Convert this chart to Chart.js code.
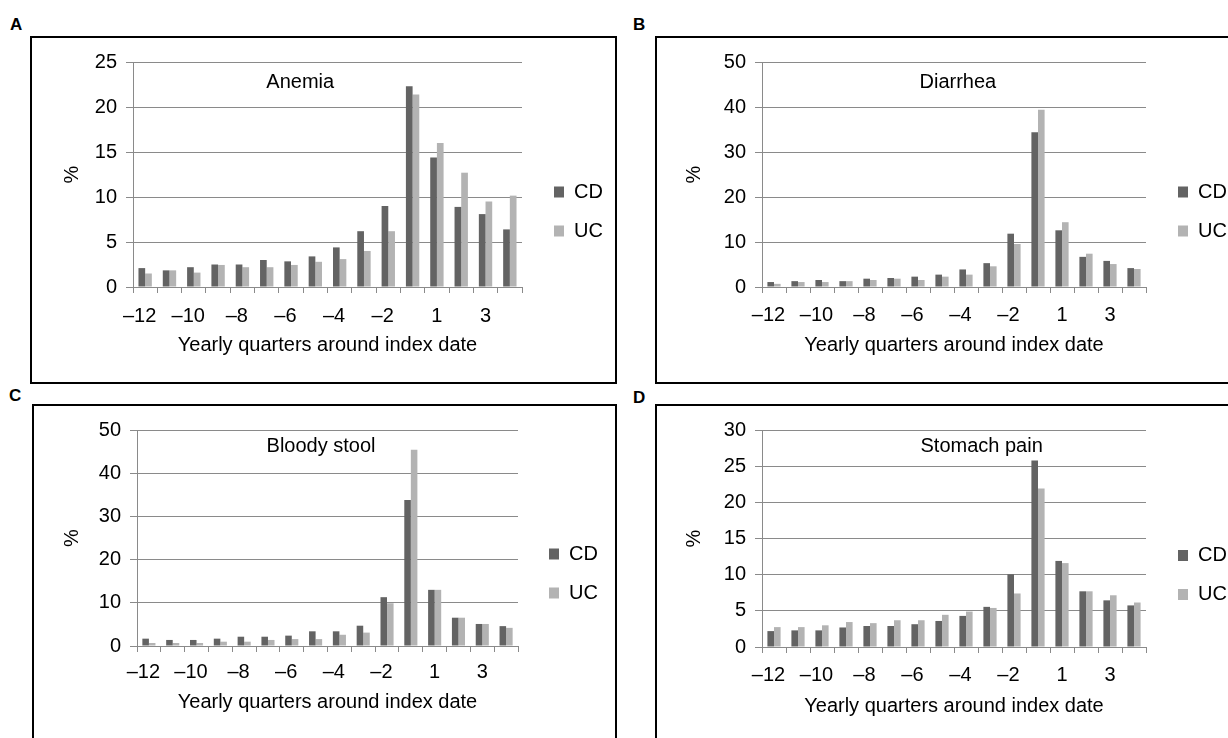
<!DOCTYPE html>
<html>
<head>
<meta charset="utf-8">
<script src="https://cdn.jsdelivr.net/npm/chart.js@4.4.1/dist/chart.umd.min.js"></script>
<style>
  body { margin: 0; width: 1228px; height: 738px; overflow: hidden; background: #fff; position: relative;
         font-family: "Liberation Sans", Arial, sans-serif; }
  .box { position: absolute; border: 2px solid #000; box-sizing: border-box; }
  .letter { position: absolute; font-weight: bold; font-size: 17px; line-height: 17px; }
  canvas { position: absolute; }
</style>
</head>
<body>
<script>
// categorias (trimestres) y etiquetas que se ven en el eje
var quarters = ['–12', '–11', '–10', '–9', '–8', '–7', '–6', '–5', '–4', '–3', '–2', '–1', '1', '2', '3', '4'];
var tickLabels = ['–12', '–10', '–8', '–6', '–4', '–2', '1', '3'];
var seriesNames = ['CD', 'UC'];

var anemiaCD = [2.1, 1.85, 2.2, 2.5, 2.5, 3.0, 2.85, 3.4, 4.4, 6.2, 9.0, 22.3, 14.4, 8.9, 8.1, 6.4];
var anemiaUC = [1.5, 1.85, 1.6, 2.45, 2.2, 2.2, 2.45, 2.8, 3.1, 4.0, 6.2, 21.4, 16.0, 12.7, 9.5, 10.15];
var anemiaTicks = [0, 5, 10, 15, 20, 25];

var diarrheaCD = [1.1, 1.3, 1.55, 1.3, 1.85, 2.0, 2.3, 2.75, 3.9, 5.3, 11.85, 34.4, 12.6, 6.7, 5.8, 4.2];
var diarrheaUC = [0.7, 1.1, 1.1, 1.3, 1.55, 1.85, 1.55, 2.3, 2.75, 4.6, 9.55, 39.4, 14.4, 7.4, 5.1, 4.0];
var diarrheaTicks = [0, 10, 20, 30, 40, 50];

var bloodyCD = [1.7, 1.4, 1.4, 1.7, 2.15, 2.15, 2.4, 3.4, 3.4, 4.7, 11.3, 33.8, 13.0, 6.55, 5.1, 4.6];
var bloodyUC = [0.7, 0.7, 0.7, 1.0, 1.0, 1.4, 1.6, 1.6, 2.6, 3.1, 9.9, 45.4, 13.0, 6.55, 5.1, 4.2];
var bloodyTicks = [0, 10, 20, 30, 40, 50];

var stomachCD = [2.2, 2.3, 2.3, 2.7, 2.9, 2.9, 3.15, 3.6, 4.3, 5.55, 10.05, 25.8, 11.9, 7.7, 6.45, 5.75];
var stomachUC = [2.75, 2.75, 3.0, 3.45, 3.3, 3.7, 3.7, 4.45, 4.9, 5.4, 7.4, 21.9, 11.6, 7.7, 7.15, 6.15];
var stomachTicks = [0, 5, 10, 15, 20, 25, 30];

var FONT = 20, LH = FONT * 1.2;
var FAMILY = '"Liberation Sans", Arial, sans-serif';
var LEG_PAD = 19, BOX_W = 10, BOX_H = 11;
var GRAY = '#8a8a8a';

Chart.defaults.font.family = FAMILY;
Chart.defaults.font.size = FONT;
Chart.defaults.color = '#000';

// ancho de la leyenda (igual que lo calcula chart.js para leyenda vertical)
var meas = document.createElement('canvas').getContext('2d');
meas.font = FONT + 'px ' + FAMILY;
var legendW = LEG_PAD + BOX_W + FONT / 2 +
  Math.max(meas.measureText(seriesNames[0]).width, meas.measureText(seriesNames[1]).width) + 10;

// posiciones de cada panel (caja, area del grafico, leyenda, titulos)
var panels = [
  { letter: 'A', title: 'Anemia', cd: anemiaCD, uc: anemiaUC, ticks: anemiaTicks,
    box: [30, 36, 587, 348], letterAt: [10, 16], area: [133, 62, 522, 287],
    legend: [554, 211.5], yTitleX: 72, xTitleY: 345, xLabelY: 316, titleAt: [0.43, 20] },
  { letter: 'B', title: 'Diarrhea', cd: diarrheaCD, uc: diarrheaUC, ticks: diarrheaTicks,
    box: [655, 36, 600, 348], letterAt: [633, 16], area: [762, 62, 1146, 287],
    legend: [1178, 211.5], yTitleX: 694, xTitleY: 345, xLabelY: 315, titleAt: [0.51, 20] },
  { letter: 'C', title: 'Bloody stool', cd: bloodyCD, uc: bloodyUC, ticks: bloodyTicks,
    box: [32, 404, 585, 400], letterAt: [9, 387], area: [137, 430, 518, 646],
    legend: [549, 573.5], yTitleX: 72, xTitleY: 702, xLabelY: 672, titleAt: [0.483, 16] },
  { letter: 'D', title: 'Stomach pain', cd: stomachCD, uc: stomachUC, ticks: stomachTicks,
    box: [655, 404, 600, 400], letterAt: [633, 389], area: [762, 430, 1146, 647],
    legend: [1178, 575], yTitleX: 694, xTitleY: 706, xLabelY: 675, titleAt: [0.572, 16] }
];

// texto del titulo dentro del area del grafico
var panelTitle = {
  id: 'panelTitle',
  afterDatasetsDraw: function (chart, args, opts) {
    var a = chart.chartArea, ctx = chart.ctx;
    ctx.save();
    ctx.font = FONT + 'px ' + FAMILY;
    ctx.fillStyle = '#000';
    ctx.textAlign = 'center';
    ctx.textBaseline = 'middle';
    ctx.fillText(opts.text, a.left + opts.fx * (a.right - a.left), a.top + opts.dy);
    ctx.restore();
  }
};

panels.forEach(function (p) {
  var box = document.createElement('div');
  box.className = 'box';
  box.style.left = p.box[0] + 'px';
  box.style.top = p.box[1] + 'px';
  box.style.width = p.box[2] + 'px';
  box.style.height = p.box[3] + 'px';
  document.body.appendChild(box);

  var lt = document.createElement('div');
  lt.className = 'letter';
  lt.textContent = p.letter;
  lt.style.left = p.letterAt[0] + 'px';
  lt.style.top = p.letterAt[1] + 'px';
  document.body.appendChild(lt);

  var cx = p.box[0] + 2, cy = p.box[1] + 2;
  var cw = p.box[2] - 4, ch = Math.min(p.box[3] - 4, 738 - cy);
  var cv = document.createElement('canvas');
  cv.width = cw; cv.height = ch;
  cv.style.left = cx + 'px';
  cv.style.top = cy + 'px';
  document.body.appendChild(cv);

  var L = p.area[0], T = p.area[1], R = p.area[2], B = p.area[3];
  var padTop = T - cy;
  var padBottom = padTop + ch - 2 * (p.legend[1] - cy);   // centra la leyenda
  var xH = ch - padBottom - (B - cy);
  var xTitlePad = cy + ch - padBottom - p.xTitleY - LH / 2;
  var gapW = p.legend[0] - R - LEG_PAD;
  var padRight = cx + cw - R - gapW - legendW;
  var xTickPad = p.xLabelY - B - 6 - LH / 2;

  new Chart(cv, {
    type: 'bar',
    data: {
      labels: quarters,
      datasets: [
        { label: seriesNames[0], data: p.cd, backgroundColor: '#636363', borderWidth: 0 },
        { label: seriesNames[1], data: p.uc, backgroundColor: '#b3b3b3', borderWidth: 0 }
      ]
    },
    options: {
      responsive: false,
      animation: false,
      categoryPercentage: 0.55,
      barPercentage: 1.0,
      layout: { padding: { left: 0, top: padTop, right: padRight, bottom: padBottom } },
      plugins: {
        tooltip: { enabled: false },
        legend: {
          position: 'right',
          labels: { boxWidth: BOX_W, boxHeight: BOX_H, padding: LEG_PAD, color: '#000' }
        },
        panelTitle: { text: p.title, fx: p.titleAt[0], dy: p.titleAt[1] }
      },
      scales: {
        x: {
          grid: { display: true, drawOnChartArea: false, tickLength: 6, color: GRAY },
          border: { color: GRAY },
          ticks: {
            autoSkip: false, maxRotation: 0, padding: xTickPad,
            callback: function (v, i) {
              var q = quarters[i];
              if (tickLabels.indexOf(q) < 0) return '';
              return q.charAt(0) === '–' ? q + '\u2007' : q; // los digitos quedan centrados
            }
          },
          title: { display: true, text: 'Yearly quarters around index date', padding: { top: 0, bottom: xTitlePad } },
          afterFit: function (s) { s.height = xH; }
        },
        y: {
          min: 0,
          max: p.ticks[p.ticks.length - 1],
          grid: { color: GRAY, tickLength: 7 },
          border: { color: GRAY },
          ticks: { padding: 9 },
          afterBuildTicks: function (s) { s.ticks = p.ticks.map(function (v) { return { value: v }; }); },
          title: { display: true, text: '%', padding: { top: p.yTitleX - cx - LH / 2, bottom: 0 } },
          afterFit: function (s) { s.width = L - cx; }
        },
        gap: {   // solo deja espacio entre el grafico y la leyenda
          type: 'linear', position: 'right', display: true,
          grid: { display: false, drawTicks: false }, border: { display: false },
          ticks: { display: false },
          afterFit: function (s) { s.width = gapW; }
        }
      }
    },
    plugins: [panelTitle]
  });
});
</script>
</body>
</html>
